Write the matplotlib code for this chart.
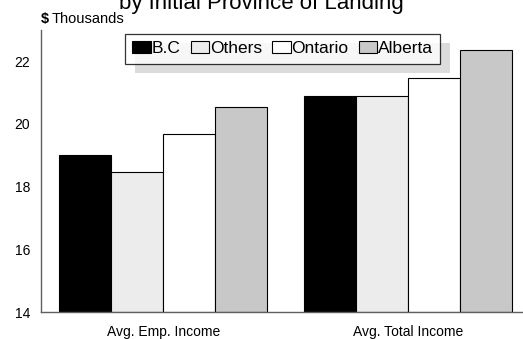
import matplotlib
matplotlib.use("Agg")
import matplotlib.pyplot as plt
import numpy as np
from matplotlib.patches import Rectangle

plt.rcParams['font.family'] = ['Liberation Sans', 'DejaVu Sans']

categories = ["Avg. Emp. Income", "Avg. Total Income"]
provinces = ["B.C", "Others", "Ontario", "Alberta"]
colors = ["#000000", "#ececec", "#ffffff", "#c8c8c8"]
values = {
    "B.C": [19.0, 20.9],
    "Others": [18.47, 20.88],
    "Ontario": [19.69, 21.46],
    "Alberta": [20.53, 22.35],
}

fig = plt.figure(figsize=(5.23, 3.39), dpi=100)
ax = fig.add_axes([0.0784, 0.0796, 0.9216, 0.832])

x = np.arange(len(categories))
w = 0.2127
for i, p in enumerate(provinces):
    ax.bar(x + (i - 1.5) * w, np.array(values[p]) - 14, width=w, bottom=14,
           color=colors[i], edgecolor="black", linewidth=0.8, label=p, zorder=2)

ax.set_ylim(14, 23)
ax.set_xlim(-0.5, 1.47)
ax.set_yticks([14, 16, 18, 20, 22])
ax.set_xticks(x)
ax.set_xticklabels(categories)
ax.tick_params(axis='both', length=0, labelsize=10)
ax.tick_params(axis='y', pad=8)
ax.tick_params(axis='x', pad=9)
for s in ["top", "right"]:
    ax.spines[s].set_visible(False)
for s in ["left", "bottom"]:
    ax.spines[s].set_color("#606060")
    ax.spines[s].set_linewidth(1.0)

fig.text(0.5, 0.9735, "by Initial Province of Landing", ha="center",
         va="baseline", fontsize=16)
fig.text(0.0784, 0.932, "$", ha="left", va="baseline", fontsize=10.5,
         fontweight="bold")
fig.text(0.0784 + 11 / 523, 0.932, "Thousands", ha="left", va="baseline",
         fontsize=10.5)

leg = ax.legend(ncol=4, loc="upper left", bbox_to_anchor=(125 / 523, 1 - 34 / 339),
                bbox_transform=fig.transFigure, fontsize=12.5, frameon=True,
                fancybox=False, handlelength=1.05, handleheight=0.65,
                handletextpad=0.05, columnspacing=0.6, borderpad=0.42,
                borderaxespad=0)
leg.get_frame().set_edgecolor("black")
leg.get_frame().set_linewidth(0.9)
leg.set_zorder(5)

fig.canvas.draw()
bb = leg.get_window_extent()
shadow = Rectangle((bb.x0 + 10, bb.y0 - 9), bb.width, bb.height,
                   transform=None, facecolor="#dcdcdc", edgecolor="none", zorder=4)
shadow.set_clip_on(False)
ax.add_artist(shadow)

fig.savefig("out.png", dpi=100)
